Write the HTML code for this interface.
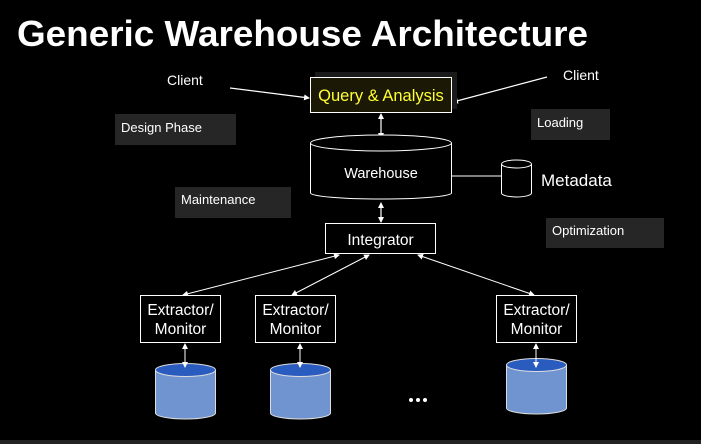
<!DOCTYPE html>
<html><head><meta charset="utf-8"><style>
html,body{margin:0;padding:0;background:#000;}
svg{display:block;font-family:"Liberation Sans",sans-serif;}
</style></head><body>
<svg width="701" height="444" viewBox="0 0 701 444" xmlns="http://www.w3.org/2000/svg">
<defs>
<marker id="a" markerWidth="6" markerHeight="6" refX="5" refY="3" orient="auto-start-reverse" markerUnits="userSpaceOnUse"><path d="M0,0 L6,3 L0,6 z" fill="#fff"/></marker>
</defs>
<rect width="701" height="444" fill="#000"/>
<rect x="0" y="440" width="701" height="4" fill="#222"/>
<text x="17" y="46" font-size="36" font-weight="bold" fill="#fff" textLength="571" lengthAdjust="spacingAndGlyphs">Generic Warehouse Architecture</text>

<rect x="115" y="114" width="121" height="31" fill="#262626"/>
<text x="121" y="132" font-size="13" fill="#fff">Design Phase</text>
<rect x="531" y="109" width="79" height="31" fill="#262626"/>
<text x="537" y="127" font-size="13" fill="#fff">Loading</text>
<rect x="175" y="187" width="116" height="31" fill="#262626"/>
<text x="181" y="204" font-size="13" fill="#fff">Maintenance</text>
<rect x="546" y="218" width="118" height="30" fill="#262626"/>
<text x="552" y="235" font-size="13" fill="#fff">Optimization</text>

<text x="167" y="85" font-size="14" fill="#fff">Client</text>
<text x="563" y="80" font-size="14" fill="#fff">Client</text>
<line x1="230" y1="88" x2="309" y2="98" stroke="#fff" stroke-width="1.2" marker-end="url(#a)"/>
<line x1="547" y1="77" x2="453" y2="102" stroke="#fff" stroke-width="1.2" marker-end="url(#a)"/>

<rect x="315" y="72" width="142" height="37" fill="#1a1a1a"/>
<rect x="310.5" y="77.5" width="141" height="35" fill="#1b1906" stroke="#fff" stroke-width="1"/>
<text x="381" y="101" font-size="16.5" fill="#ffff33" text-anchor="middle">Query &amp; Analysis</text>
<line x1="381" y1="114" x2="381" y2="138" stroke="#fff" stroke-width="1.2" marker-start="url(#a)" marker-end="url(#a)"/>

<path d="M310.5,143 L310.5,193 A70.5,6 0 0 0 451.5,193 L451.5,143" fill="#000" stroke="#fff" stroke-width="1"/>
<ellipse cx="381" cy="143" rx="70.5" ry="8" fill="#000" stroke="#fff" stroke-width="1"/>
<text x="381" y="178" font-size="14.5" fill="#fff" text-anchor="middle">Warehouse</text>
<line x1="451" y1="176" x2="501" y2="176" stroke="#fff" stroke-width="1"/>
<path d="M501.5,164 L501.5,193 A15,4 0 0 0 531.5,193 L531.5,164" fill="#000" stroke="#fff" stroke-width="1"/>
<ellipse cx="516.5" cy="164" rx="15" ry="4" fill="#000" stroke="#fff" stroke-width="1"/>
<text x="541" y="186" font-size="17" fill="#fff">Metadata</text>
<line x1="381" y1="203" x2="381" y2="222" stroke="#fff" stroke-width="1.2" marker-start="url(#a)" marker-end="url(#a)"/>

<rect x="325.5" y="223.5" width="110" height="30" fill="#000" stroke="#fff" stroke-width="1"/>
<text x="380.5" y="245" font-size="15.5" fill="#fff" text-anchor="middle">Integrator</text>
<line x1="339" y1="255" x2="183" y2="295" stroke="#fff" stroke-width="1" marker-start="url(#a)" marker-end="url(#a)"/>
<line x1="369" y1="255" x2="292" y2="295" stroke="#fff" stroke-width="1" marker-start="url(#a)" marker-end="url(#a)"/>
<line x1="418" y1="255" x2="534" y2="295" stroke="#fff" stroke-width="1" marker-start="url(#a)" marker-end="url(#a)"/>

<g font-size="15.5" fill="#fff" text-anchor="middle">
<rect x="140.5" y="295.5" width="80" height="47" fill="#000" stroke="#fff"/>
<text x="180.5" y="315">Extractor/</text><text x="180.5" y="334">Monitor</text>
<rect x="255.5" y="295.5" width="80" height="47" fill="#000" stroke="#fff"/>
<text x="295.5" y="315">Extractor/</text><text x="295.5" y="334">Monitor</text>
<rect x="496.5" y="295.5" width="80" height="47" fill="#000" stroke="#fff"/>
<text x="536.5" y="315">Extractor/</text><text x="536.5" y="334">Monitor</text>
</g>

<g stroke="#ddd" stroke-width="1">
<path d="M155.5,370 L155.5,413 A30,6 0 0 0 215.5,413 L215.5,370" fill="#7094d0"/>
<ellipse cx="185.5" cy="370" rx="30" ry="6.5" fill="#2a5cbf"/>
<path d="M270.5,370 L270.5,413 A30,6 0 0 0 330.5,413 L330.5,370" fill="#7094d0"/>
<ellipse cx="300.5" cy="370" rx="30" ry="6.5" fill="#2a5cbf"/>
<path d="M506.5,365 L506.5,408 A30,6 0 0 0 566.5,408 L566.5,365" fill="#7094d0"/>
<ellipse cx="536.5" cy="365" rx="30" ry="6.5" fill="#2a5cbf"/>
</g>
<line x1="185" y1="344" x2="185" y2="367" stroke="#fff" stroke-width="1" marker-start="url(#a)" marker-end="url(#a)"/>
<line x1="300" y1="344" x2="300" y2="367" stroke="#fff" stroke-width="1" marker-start="url(#a)" marker-end="url(#a)"/>
<line x1="536" y1="344" x2="536" y2="367" stroke="#fff" stroke-width="1" marker-start="url(#a)" marker-end="url(#a)"/>
<g fill="#fff"><circle cx="411" cy="400" r="2"/><circle cx="418" cy="400" r="2"/><circle cx="425" cy="400" r="2"/></g>
</svg>
</body></html>
